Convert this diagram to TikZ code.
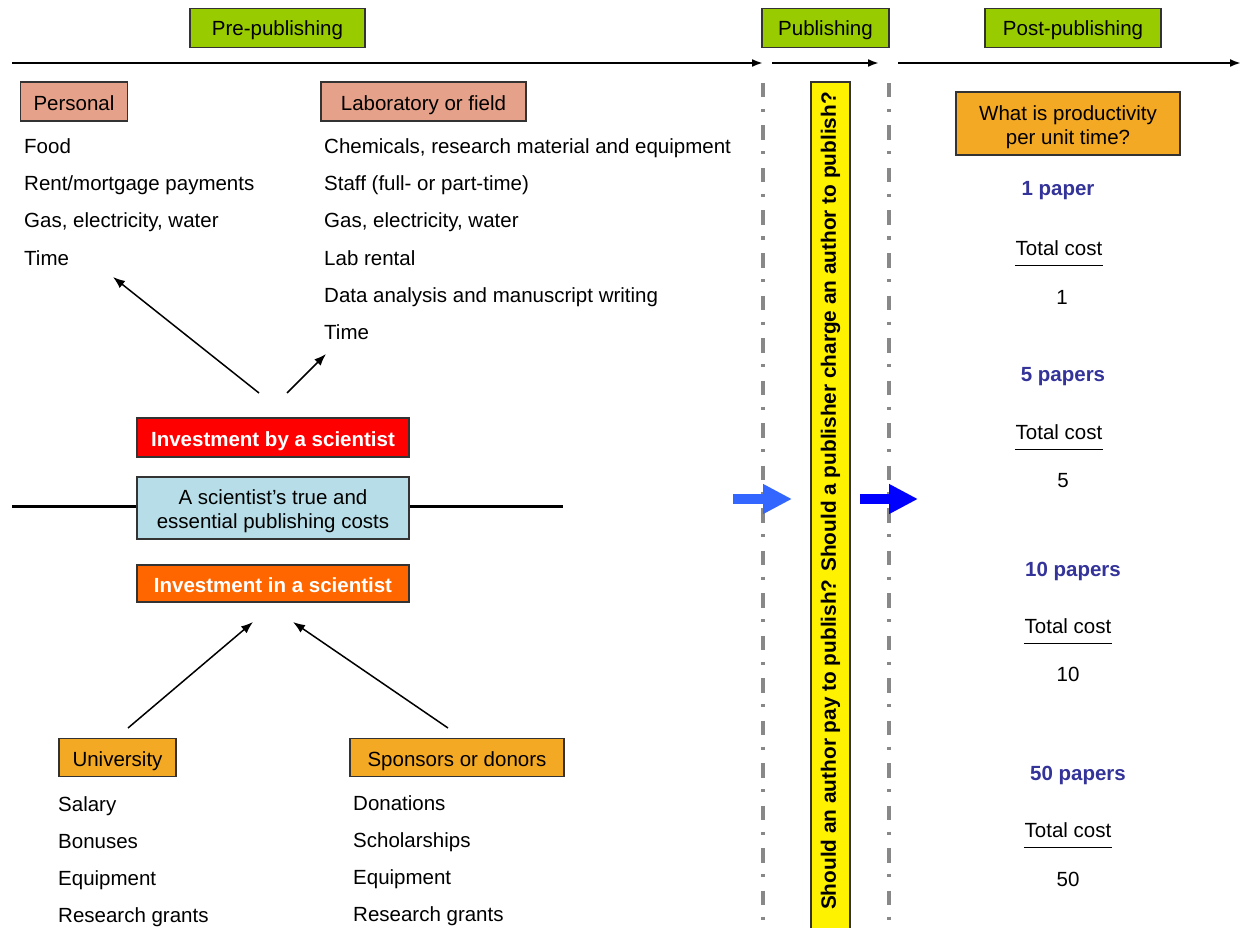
\documentclass[tikz,border=0pt]{standalone}
\usepackage{fontspec}
\setmainfont{Liberation Sans}
\usetikzlibrary{arrows.meta}

\definecolor{phasegreen}{HTML}{99CC00}
\definecolor{costsalmon}{HTML}{E6A18A}
\definecolor{fundgold}{HTML}{F3A923}
\definecolor{corecyan}{HTML}{B7DEE8}
\definecolor{investorange}{HTML}{FF6600}
\definecolor{paperblue}{HTML}{333399}
\definecolor{arrowlight}{HTML}{3366FF}
\definecolor{dashgray}{HTML}{888888}

\begin{document}
\begin{tikzpicture}
[
    x=1pt, y=-1pt,
    every node/.style={font=\fontsize{20.5}{24}\selectfont},
    box/.style={draw=black!80, line width=1.2pt, inner sep=0pt, align=center},
    onebox/.style={box, text height=17.5pt, text depth=0pt},
    phasebox/.style={box, text height=16pt, text depth=0pt, fill=phasegreen, minimum height=39pt},
    costbox/.style={onebox, fill=costsalmon, minimum height=39pt},
    fundbox/.style={onebox, fill=fundgold, minimum height=38pt},
    investbox/.style={onebox, minimum width=272pt, text=white, font=\fontsize{20.5}{24}\selectfont\bfseries},
    item/.style={anchor=base west, inner sep=0pt},
    thinarrow/.style={line width=1.5pt, -{Latex[length=12pt,width=9pt]}},
    timeline/.style={line width=2pt, -{Latex[length=11pt,width=8pt]}},
    divider/.style={dashgray, line width=4pt, dash pattern=on 14.5pt off 11.5pt on 3pt off 13.5pt},
    papers/.style={font=\fontsize{20.5}{24}\selectfont\bfseries, text=paperblue},
    costlabel/.style={minimum width=88pt, inner xsep=0pt, inner ysep=10pt},
    blockarrow/.style={line width=10pt, -{Triangle[length=29pt,width=28pt]}}
]
    \useasboundingbox (0,0) rectangle (1242,928);

    % phases and time line
    \node [phasebox, minimum width=175pt] (pre) at (277.5,28) {Pre-publishing};
    \node [phasebox, minimum width=127pt] (pub) at (825.5,28) {Publishing};
    \node [phasebox, minimum width=176pt] (post) at (1073,28) {Post-publishing};

    \coordinate (t1a) at (12,63);
    \coordinate (t1b) at (763,63);
    \coordinate (t2a) at (772,63);
    \coordinate (t2b) at (879,63);
    \coordinate (t3a) at (898,63);
    \coordinate (t3b) at (1241,63);
    \draw [timeline] (t1a) -- (t1b);
    \draw [timeline] (t2a) -- (t2b);
    \draw [timeline] (t3a) -- (t3b);

    \coordinate (d1a) at (763,83);
    \coordinate (d1b) at (763,930);
    \coordinate (d2a) at (889,83);
    \coordinate (d2b) at (889,930);
    \draw [divider] (d1a) -- (d1b);
    \draw [divider] (d2a) -- (d2b);

    % investment by a scientist
    \node [costbox, minimum width=107pt] (personal) at (74,101.5) {Personal};
    \node [item] (food) at (24,154) {Food};
    \node [item] (rent) at (24,191) {Rent/mortgage payments};
    \node [item] (gas) at (24,228) {Gas, electricity, water};
    \node [item] (time) at (24,265) {Time};

    \node [costbox, minimum width=205pt] (lab) at (423.5,101.5) {Laboratory or field};
    \node [item] (chem) at (324,154) {Chemicals, research material and equipment};
    \node [item] (staff) at (324,191) {Staff (full- or part-time)};
    \node [item] (labgas) at (324,228) {Gas, electricity, water};
    \node [item] (rental) at (324,265) {Lab rental};
    \node [item] (writing) at (324,302) {Data analysis and manuscript writing};
    \node [item] (labtime) at (324,339) {Time};

    \coordinate (upl) at (259,393);
    \coordinate (upltip) at (113,277);
    \coordinate (upr) at (287,393);
    \coordinate (uprtip) at (326,354);
    \draw [thinarrow] (upl) -- (upltip);
    \draw [thinarrow] (upr) -- (uprtip);

    \node [investbox, fill=red, minimum height=39pt] (by) at (273,437.5) {Investment by a scientist};

    % central costs
    \coordinate (axisl) at (12,506);
    \coordinate (axisr) at (563,506);
    \node [box, fill=corecyan, minimum width=272pt, minimum height=62pt,
        text height=41pt, text depth=0pt] (core) at (273,508)
        {A scientist’s true and\\essential publishing costs};
    \draw [line width=3pt] (axisl) -- (axisl -| core.west);
    \draw [line width=3pt] (axisr -| core.east) -- (axisr);

    % investment in a scientist
    \node [investbox, fill=investorange, minimum height=37pt] (in) at (273,583.5) {Investment in a scientist};

    \coordinate (downl) at (128,728);
    \coordinate (downltip) at (253,622);
    \coordinate (downr) at (448,728);
    \coordinate (downrtip) at (293,622);
    \draw [thinarrow] (downl) -- (downltip);
    \draw [thinarrow] (downr) -- (downrtip);

    \node [fundbox, minimum width=117pt] (uni) at (117.5,757.5) {University};
    \node [item] (salary) at (58,811) {Salary};
    \node [item] (bonus) at (58,848) {Bonuses};
    \node [item] (uniequip) at (58,885) {Equipment};
    \node [item] (unigrant) at (58,922) {Research grants};

    \node [fundbox, minimum width=214pt] (sponsor) at (457,757.5) {Sponsors or donors};
    \node [item] (donation) at (353,810) {Donations};
    \node [item] (scholar) at (353,847) {Scholarships};
    \node [item] (sponequip) at (353,884) {Equipment};
    \node [item] (spongrant) at (353,921) {Research grants};

    % publishing question
    \node [box, fill=yellow, rotate=90, minimum width=850pt, minimum height=39pt,
        font=\fontsize{20.8}{24}\selectfont\bfseries] (question) at (830.5,507)
        {\hspace*{12pt}Should an author pay to publish? Should a publisher charge an author to publish?};

    \coordinate (inA) at (733,499);
    \coordinate (inB) at (792,499);
    \coordinate (outA) at (860,499);
    \coordinate (outB) at (918,499);
    \draw [blockarrow, arrowlight] (inA) -- (inB);
    \draw [blockarrow, blue] (outA) -- (outB);

    % post-publishing
    \node [fundbox, minimum width=224pt, minimum height=63pt,
        text height=41.5pt, text depth=0pt] (prod) at (1068,123.5)
        {What is productivity\\per unit time?};

    \node [papers] (p1) at (1058,191) {1 paper};
    \node [costlabel] (c1) at (1059,248) {Total cost};
    \draw [line width=1.2pt] (c1.south west) -- (c1.south east);
    \node (n1) at (1062,297) {1};

    \node [papers] (p5) at (1063,377) {5 papers};
    \node [costlabel] (c5) at (1059,432) {Total cost};
    \draw [line width=1.2pt] (c5.south west) -- (c5.south east);
    \node (n5) at (1063,481) {5};

    \node [papers] (p10) at (1073,571) {10 papers};
    \node [costlabel] (c10) at (1068,626) {Total cost};
    \draw [line width=1.2pt] (c10.south west) -- (c10.south east);
    \node (n10) at (1068,674) {10};

    \node [papers] (p50) at (1078,775) {50 papers};
    \node [costlabel] (c50) at (1068,830) {Total cost};
    \draw [line width=1.2pt] (c50.south west) -- (c50.south east);
    \node (n50) at (1068,879) {50};
\end{tikzpicture}
\end{document}
